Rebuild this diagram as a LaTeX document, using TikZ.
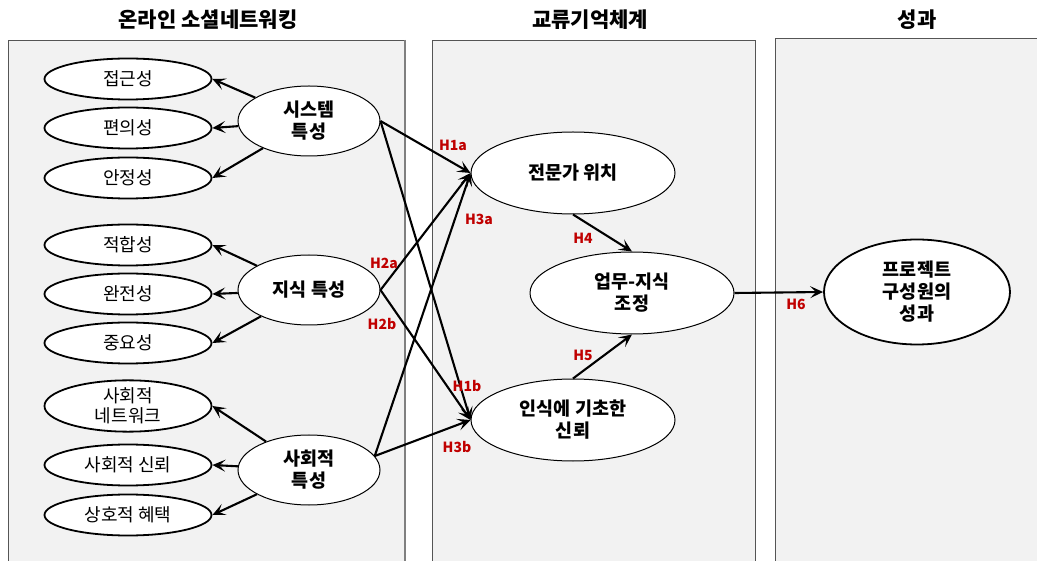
\documentclass[tikz,border=0pt]{standalone}
\usepackage{fontspec}
\setmainfont{Noto Sans CJK KR}
\usetikzlibrary{arrows.meta,shapes.geometric}
\definecolor{panelfill}{HTML}{F2F2F2}
\definecolor{panelline}{HTML}{555555}
\definecolor{hred}{HTML}{C00000}
\begin{document}
\begin{tikzpicture}[x=1pt,y=-1pt,
  panel/.style={draw=panelline,fill=panelfill,line width=0.8pt},
  title/.style={font=\fontsize{21}{24}\selectfont\bfseries},
  small/.style={ellipse,draw,fill=white,line width=1.8pt,minimum width=167pt,minimum height=41pt,inner sep=0pt,align=center,font=\fontsize{18}{20}\selectfont},
  big/.style={ellipse,draw,fill=white,line width=1pt,minimum width=142pt,minimum height=70pt,inner sep=0pt,align=center,font=\fontsize{18.5}{22}\selectfont\bfseries},
  mid/.style={ellipse,draw,fill=white,line width=1pt,minimum width=204pt,minimum height=82pt,inner sep=0pt,align=center,font=\fontsize{18.5}{22}\selectfont\bfseries},
  arr/.style={line width=2.1pt,-{Stealth[length=13pt,width=12pt,inset=6pt]}},
  hlab/.style={text=hred,font=\fontsize{14}{16}\selectfont\bfseries,inner sep=0pt}
]
\useasboundingbox (0,0) rectangle (1037,561);
\fill[white] (0,0) rectangle (1037,561);
% panels
\draw[panel] (8,40) rectangle (405,565);
\draw[panel] (432,40) rectangle (755,565);
\draw[panel] (775,38) rectangle (1040,565);
\draw[draw=gray,line width=1.8pt] (405,40) -- (405,561);
% titles
\node[title] (t1) at (208,20) {온라인 소셜네트워킹};
\node[title] (t2) at (590,20) {교류기억체계};
\node[title] (t3) at (917,20) {성과};
% small ellipses
\node[small] (a1) at (128,79) {접근성};
\node[small] (a2) at (128,128) {편의성};
\node[small] (a3) at (128,178) {안정성};
\node[small] (b1) at (128,245) {적합성};
\node[small] (b2) at (128,294) {완전성};
\node[small] (b3) at (128,343) {중요성};
\node[small] (c1) at (128,406) {사회적\\네트워크};
\node[small] (c2) at (128,465) {사회적 신뢰};
\node[small] (c3) at (128,515) {상호적 혜택};
% big ellipses
\node[big] (sys) at (309,121) {시스템\\특성};
\node[big] (kno) at (309,290) {지식 특성};
\node[big] (soc) at (309,470) {사회적\\특성};
% middle
\node[mid] (exp) at (573,173) {전문가 위치};
\node[mid] (task) at (632,293) {업무-지식\\조정};
\node[mid] (trust) at (573,420) {인식에 기초한\\신뢰};
\node[ellipse,draw,fill=white,line width=1.8pt,minimum width=186pt,minimum height=105pt,inner sep=0pt,align=center,font=\fontsize{18.5}{22}\selectfont\bfseries] (perf) at (917,292) {프로젝트\\구성원의\\성과};
% left arrows
\draw[arr] (sys) -- (a1.east);
\draw[arr] (sys) -- (a2.east);
\draw[arr] (sys) -- (a3.east);
\draw[arr] (kno) -- (b1.east);
\draw[arr] (kno) -- (b2.east);
\draw[arr] (kno) -- (b3.east);
\draw[arr] (soc) -- (c1.east);
\draw[arr] (soc) -- (c2.east);
\draw[arr] (soc) -- (c3.east);
% cross arrows
\draw[arr] (sys.east) -- (exp.west);
\draw[arr] (sys.east) -- (trust.west);
\draw[arr] (kno.east) -- (exp.west);
\draw[arr] (kno.east) -- (trust.west);
\draw[arr] (soc.12) -- (exp.west);
\draw[arr] (soc.12) -- (trust.west);
\draw[arr] (exp.south) -- (task.north);
\draw[arr] (trust.north) -- (task.south);
\draw[arr] (task.east) -- (perf.west);
% labels
\node[hlab] (h1a) at (453,145) {H1a};
\node[hlab] (h1b) at (467,386) {H1b};
\node[hlab] (h2a) at (384,263) {H2a};
\node[hlab] (h2b) at (382,324) {H2b};
\node[hlab] (h3a) at (479,219) {H3a};
\node[hlab] (h3b) at (457,447) {H3b};
\node[hlab] (h4) at (583,238) {H4};
\node[hlab] (h5) at (583,355) {H5};
\node[hlab] (h6) at (796,304) {H6};
\end{tikzpicture}
\end{document}
